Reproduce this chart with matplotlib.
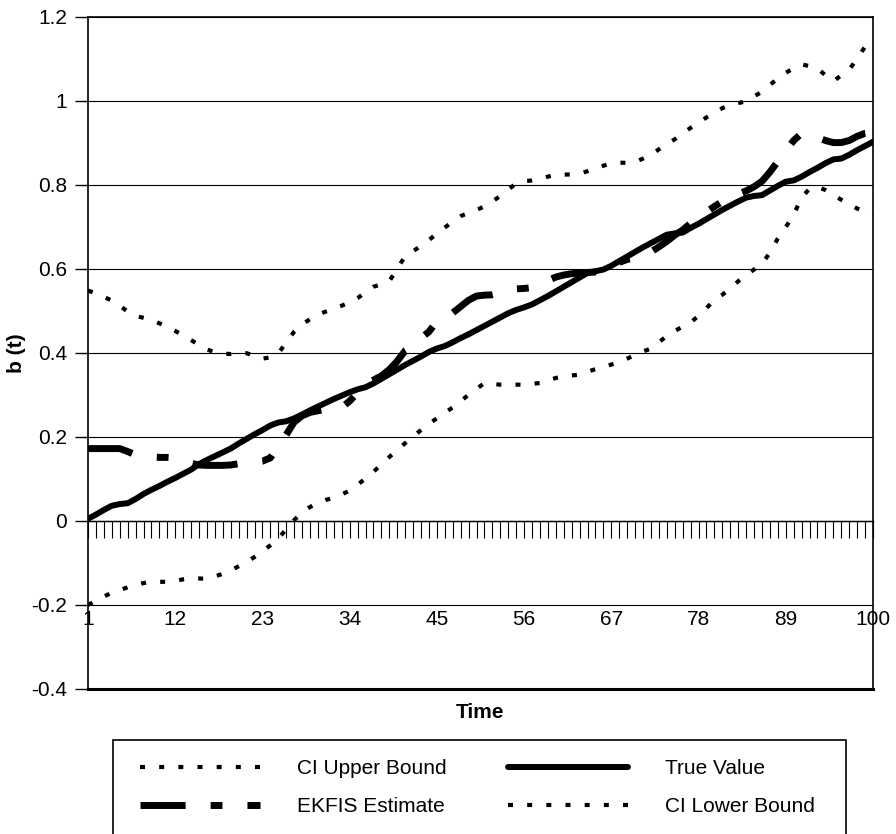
import matplotlib
matplotlib.use("Agg")
import matplotlib.pyplot as plt
from matplotlib.patches import Rectangle

plt.rcParams['font.family'] = ['Liberation Sans', 'DejaVu Sans']
plt.rcParams['font.size'] = 15

time = list(range(1, 101))

true_value = [
    0.005, 0.015, 0.026, 0.036, 0.040, 0.042, 0.052, 0.064, 0.074, 0.083,
    0.093, 0.102, 0.112, 0.122, 0.135, 0.145, 0.154, 0.163, 0.172, 0.184,
    0.195, 0.206, 0.216, 0.227, 0.234, 0.237, 0.244, 0.253, 0.263, 0.272,
    0.281, 0.290, 0.298, 0.306, 0.313, 0.318, 0.327, 0.338, 0.349, 0.360,
    0.371, 0.381, 0.391, 0.402, 0.410, 0.416, 0.425, 0.435, 0.444, 0.454,
    0.464, 0.474, 0.484, 0.494, 0.502, 0.508, 0.515, 0.525, 0.535, 0.546,
    0.557, 0.568, 0.579, 0.590, 0.594, 0.598, 0.607, 0.618, 0.629, 0.640,
    0.651, 0.661, 0.671, 0.681, 0.684, 0.686, 0.697, 0.707, 0.718, 0.729,
    0.740, 0.750, 0.760, 0.769, 0.773, 0.775, 0.786, 0.797, 0.807, 0.810,
    0.819, 0.830, 0.840, 0.851, 0.860, 0.862, 0.871, 0.882, 0.892, 0.902,
]

ekfis_estimate = [
    0.172, 0.172, 0.172, 0.172, 0.172, 0.165, 0.157, 0.154, 0.152, 0.151,
    0.151, 0.150, 0.143, 0.137, 0.133, 0.132, 0.132, 0.132, 0.133, 0.136,
    0.138, 0.140, 0.142, 0.150, 0.178, 0.205, 0.235, 0.250, 0.258, 0.262,
    0.265, 0.266, 0.270, 0.285, 0.305, 0.325, 0.335, 0.345, 0.360, 0.380,
    0.405, 0.415, 0.435, 0.450, 0.475, 0.485, 0.495, 0.510, 0.525, 0.535,
    0.537, 0.538, 0.542, 0.548, 0.552, 0.553, 0.555, 0.562, 0.572, 0.580,
    0.585, 0.588, 0.590, 0.591, 0.592, 0.593, 0.602, 0.615, 0.622, 0.626,
    0.630, 0.640, 0.652, 0.665, 0.680, 0.692, 0.708, 0.722, 0.735, 0.748,
    0.760, 0.772, 0.778, 0.785, 0.795, 0.808, 0.830, 0.855, 0.880, 0.905,
    0.922, 0.918, 0.912, 0.905, 0.900, 0.900, 0.905, 0.915, 0.922, 0.925,
]

ci_upper = [
    0.548, 0.541, 0.533, 0.524, 0.512, 0.498, 0.488, 0.483, 0.478, 0.470,
    0.461, 0.452, 0.441, 0.430, 0.419, 0.408, 0.401, 0.398, 0.397, 0.399,
    0.399, 0.392, 0.386, 0.389, 0.398, 0.425, 0.450, 0.467, 0.480, 0.491,
    0.498, 0.505, 0.512, 0.520, 0.530, 0.544, 0.557, 0.563, 0.570, 0.600,
    0.630, 0.642, 0.654, 0.668, 0.684, 0.698, 0.712, 0.725, 0.733, 0.740,
    0.748, 0.760, 0.773, 0.788, 0.803, 0.808, 0.810, 0.814, 0.819, 0.824,
    0.824, 0.824, 0.826, 0.832, 0.839, 0.845, 0.851, 0.852, 0.852, 0.854,
    0.862, 0.871, 0.884, 0.896, 0.908, 0.922, 0.935, 0.947, 0.960, 0.971,
    0.982, 0.990, 0.994, 0.998, 1.010, 1.021, 1.037, 1.053, 1.066, 1.077,
    1.086, 1.082, 1.077, 1.060, 1.046, 1.060, 1.073, 1.100, 1.128, 1.138,
]

ci_lower = [
    -0.200, -0.190, -0.180, -0.171, -0.165, -0.158, -0.153, -0.148, -0.145, -0.145,
    -0.145, -0.143, -0.139, -0.136, -0.137, -0.138, -0.132, -0.126, -0.118, -0.108,
    -0.098, -0.086, -0.073, -0.058, -0.042, -0.020, 0.002, 0.020, 0.033, 0.043,
    0.050, 0.055, 0.063, 0.072, 0.086, 0.101, 0.117, 0.134, 0.152, 0.168,
    0.185, 0.201, 0.216, 0.231, 0.244, 0.257, 0.270, 0.285, 0.300, 0.314,
    0.328, 0.326, 0.324, 0.324, 0.324, 0.324, 0.326, 0.328, 0.334, 0.340,
    0.344, 0.346, 0.348, 0.355, 0.361, 0.366, 0.372, 0.378, 0.386, 0.395,
    0.403, 0.410, 0.425, 0.440, 0.452, 0.462, 0.472, 0.488, 0.506, 0.526,
    0.538, 0.553, 0.570, 0.585, 0.598, 0.612, 0.638, 0.672, 0.699, 0.728,
    0.770, 0.790, 0.795, 0.787, 0.775, 0.764, 0.754, 0.743, 0.737, 0.730,
]

x_ticks = [1, 12, 23, 34, 45, 56, 67, 78, 89, 100]
y_ticks = [-0.4, -0.2, 0, 0.2, 0.4, 0.6, 0.8, 1.0, 1.2]
y_tick_labels = ['-0.4', '-0.2', '0', '0.2', '0.4', '0.6', '0.8', '1', '1.2']

W, H = 896, 834
fig = plt.figure(figsize=(W / 100, H / 100), dpi=100)
ax = fig.add_axes([88 / W, 1 - 689 / H, 785 / W, 672.5 / H])

# Линии
l_up, = ax.plot(time, ci_upper, color='black', lw=3, linestyle=(0, (1.2, 3.4)),
                label='CI Upper Bound', zorder=3)
l_lo, = ax.plot(time, ci_lower, color='black', lw=3, linestyle=(0, (1.2, 3.4)),
                label='CI Lower Bound', zorder=3)
l_true, = ax.plot(time, true_value, color='black', lw=4.3, solid_capstyle='round',
                  label='True Value', zorder=4)
l_est, = ax.plot(time, ekfis_estimate, color='black', lw=5,
                 linestyle=(0, (6.5, 3.6, 1.7, 3.6)), label='EKFIS Estimate', zorder=5)

ax.set_xlim(1, 100)
ax.set_ylim(-0.4, 1.2)

# Оси и сетка
ax.spines['bottom'].set_position(('data', 0))
for s in ['left', 'right', 'top']:
    ax.spines[s].set_linewidth(1.2)
ax.spines['bottom'].set_linewidth(1.0)
ax.axhline(-0.4, color='black', lw=2.2, clip_on=False, zorder=6)

ax.set_yticks(y_ticks)
ax.set_yticklabels(y_tick_labels)
ax.yaxis.grid(True, color='black', lw=0.8)
ax.set_axisbelow(True)
ax.tick_params(axis='y', direction='out', length=9.4, width=1, pad=5.5)

ax.set_xticks(x_ticks)
ax.set_xticklabels([str(v) for v in x_ticks])
ax.set_xticks(time, minor=True)
ax.tick_params(axis='x', which='both', direction='out', length=12.5, width=0.8)
ax.tick_params(axis='x', which='major', pad=52)

fig.text(17 / W, 1 - 353 / H, 'b (t)', rotation=90, ha='center', va='center',
         fontweight='bold')
fig.text(480 / W, 1 - 713 / H, 'Time', ha='center', va='center', fontweight='bold')

# Легенда
leg = fig.legend(handles=[l_up, l_est, l_true, l_lo], ncol=2, frameon=False,
                 loc='upper left', bbox_to_anchor=(140 / W, 1 - 759 / H),
                 borderpad=0, borderaxespad=0, handlelength=5.77,
                 handletextpad=1.78, columnspacing=2.93, labelspacing=0.92)
fig.patches.append(Rectangle((113 / W, -0.05), (846 - 113) / W, (834 - 740) / H + 0.05,
                             transform=fig.transFigure, fill=False,
                             edgecolor='black', lw=1.2))

plt.savefig('out.png', dpi=100)
plt.close()
